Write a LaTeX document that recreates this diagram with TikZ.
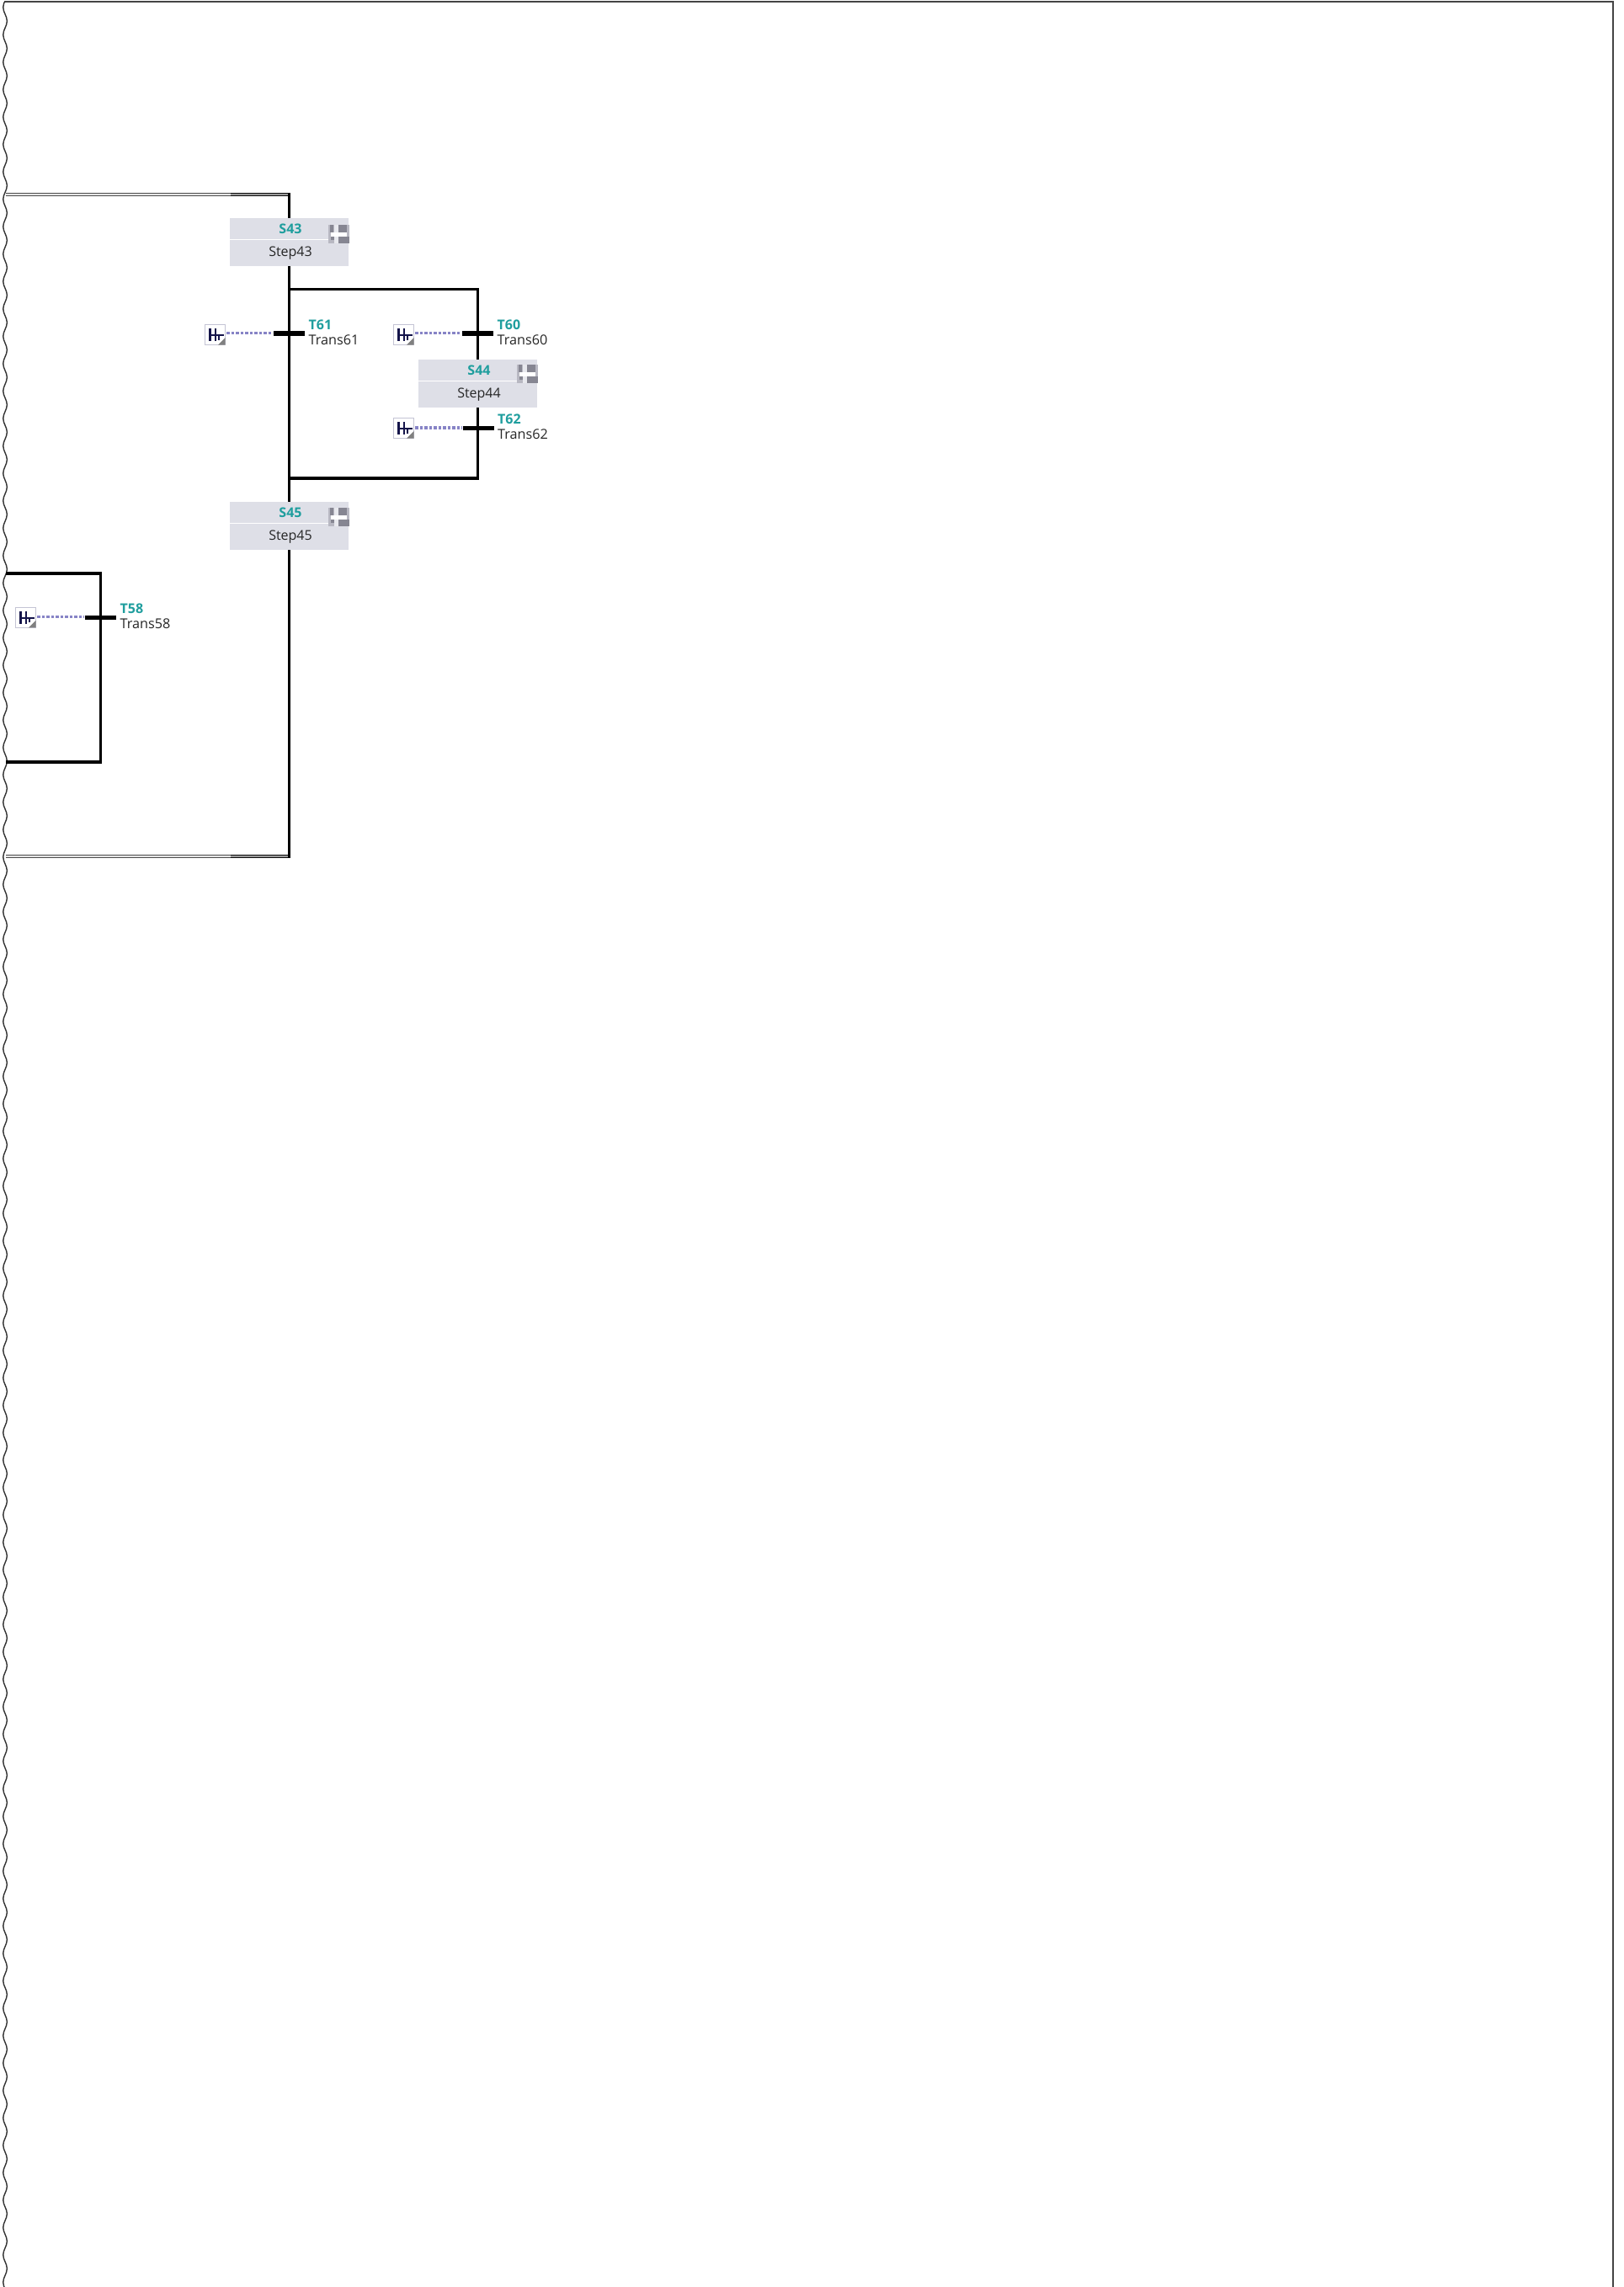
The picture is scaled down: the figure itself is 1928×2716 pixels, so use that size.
\documentclass[tikz,border=0pt]{standalone}
\usepackage{fontspec}
\setmainfont{Open Sans}
\definecolor{teal1}{HTML}{1F9E9E}
\definecolor{stepbg}{HTML}{DEDFE7}
\definecolor{dotc}{HTML}{8784C6}
\definecolor{navy}{HTML}{14144A}
\definecolor{iconbd}{HTML}{C4C4D4}
\definecolor{framec}{HTML}{444444}
\definecolor{foldbase}{HTML}{B8B8C2}
\definecolor{folddark}{HTML}{868692}
\tikzset{
 x=1pt,y=-1pt,
 wire/.style={draw=black,line width=3.2pt,line join=miter},
 tbar/.style={draw=none,fill=black,minimum width=37pt,minimum height=5.4pt,inner sep=0pt,outer sep=0pt},
 stepbox/.style={fill=stepbg,draw=none,minimum width=141pt,minimum height=57pt,inner sep=0pt,outer sep=0pt},
 sid/.style={text=teal1,font=\fontsize{16}{16}\selectfont\bfseries,inner sep=0pt,anchor=base},
 sname/.style={text=black!85,font=\fontsize{16}{16}\selectfont,inner sep=0pt,anchor=base},
 tid/.style={text=teal1,font=\fontsize{16}{16}\selectfont\bfseries,inner sep=0pt,anchor=base west},
 tname/.style={text=black!85,font=\fontsize{16.2}{16}\selectfont,inner sep=0pt,anchor=base west},
 iconbox/.style={draw=iconbd,fill=white,line width=1.3pt,minimum size=24pt,inner sep=0pt,outer sep=0pt},
 dotline/.style={draw=dotc,line width=3.6pt,dash pattern=on 3.5pt off 2pt},
}
\newcommand{\StepBlock}[6]{% name, cx, top, id, label, fold top
 \node[stepbox,anchor=north] (#1) at (#2,#3) {};
 \draw[white,line width=1.2pt] (#2-70.5,#3+25.3) -- (#2+47,#3+25.3);
 \node[sid] (#1id) at (#2+1.5,#3+18.8) {#4};
 \node[sname] (#1nm) at (#2+1.5,#3+45.6) {#5};
 \fill[foldbase] (#2+46.5,#6) rectangle (#2+71.5,#6+22);
 \fill[stepbg!70!white] (#2+53,#6) rectangle (#2+58.5,#6+22);
 \fill[folddark] (#2+48.5,#6) rectangle (#2+52.5,#6+9);
 \fill[folddark] (#2+58.5,#6) rectangle (#2+68.5,#6+9);
 \fill[folddark] (#2+49,#6+14) rectangle (#2+53,#6+18);
 \fill[folddark] (#2+58.5,#6+14) rectangle (#2+71.5,#6+22);
 \fill[white] (#2+49,#6+8.5) rectangle (#2+68,#6+14);
}
\newcommand{\TransBlock}[7]{% name, barx, bary, id, label, icon cx, icon cy
 \node[tbar] (#1) at (#2,#3) {};
 \node[tid] (#1id) at (#2+23,#3-4.8) {#4};
 \node[tname] (#1nm) at (#2+23,#3+13) {#5};
 \node[iconbox] (#1ic) at (#6,#7) {};
 \draw[navy,line width=3pt] (#6-6.2,#7-7.5) -- (#6-6.2,#7+7.5);
 \draw[navy,line width=2.5pt] (#6+0.5,#7-7.5) -- (#6+0.5,#7+7.5);
 \draw[navy,line width=2.2pt] (#6-6,#7+0.5) -- (#6+10,#7+0.5);
 \draw[navy,line width=2pt] (#6+4.7,#7+0.5) -- (#6+4.7,#7+6);
 \fill[black!50] (#6+12,#7+3.5) -- (#6+12,#7+12) -- (#6+3.5,#7+12) -- cycle;
 \coordinate (#1d) at (#6+13.5,#3-0.7);
 \coordinate (#1e) at (#2-19.5,#3-0.7);
 \draw[dotline] (#1d) -- (#1e);
}
\begin{document}
\begin{tikzpicture}
\useasboundingbox (0,0) rectangle (1928,2716);
\fill[white] (0,0) rectangle (1928,2716);
% frame
\coordinate (fa) at (5,2.5);
\coordinate (fb) at (1915.5,2.5);
\coordinate (fc) at (1915.5,2716);
\draw[framec,line width=2pt,line join=miter] (fa) -- (fb) -- (fc);
\begin{scope}
\clip (0,3) rectangle (20,2716);
\draw[black!80,line width=1.4pt] (8.35,-7.55)
 \foreach \k in {0,...,83} {
  .. controls (8.35,{-7.55+32.55*\k+5.93}) and (3.75,{-7.55+32.55*\k+10.35}) .. (3.75,{-7.55+32.55*\k+16.275})
  .. controls (3.75,{-7.55+32.55*\k+22.2}) and (8.35,{-7.55+32.55*\k+26.62}) .. (8.35,{-7.55+32.55*\k+32.55}) };
\end{scope}
% steps and transitions
\StepBlock{S43}{343.5}{259}{S43}{Step43}{267}
\StepBlock{S44}{567.5}{427}{S44}{Step44}{433}
\StepBlock{S45}{343.5}{596}{S45}{Step45}{603}
\TransBlock{T61}{343.5}{396}{T61}{Trans61}{255.5}{397.5}
\TransBlock{T60}{567.5}{396}{T60}{Trans60}{479.5}{397.5}
\TransBlock{T62}{568}{508.7}{T62}{Trans62}{479.5}{508.5}
\TransBlock{T58}{119.5}{733.3}{T58}{Trans58}{30.5}{733.3}
% connector anchors
\coordinate (topL) at (7,231);
\coordinate (topM) at (274,231);
\coordinate (topR) at (343.5,231);
\coordinate (botL) at (7,1017);
\coordinate (botM) at (274,1017);
\coordinate (botR) at (343.5,1017);
\coordinate (div) at (343.5,343.5);
\coordinate (mrg) at (343.5,568);
\coordinate (t58tl) at (7,681);
\coordinate (t58tr) at (119.5,681);
\coordinate (t58bl) at (7,905);
\coordinate (t58br) at (119.5,905);
% double lines
\draw[black!70,line width=4.2pt] (topL) -- (topM);
\draw[black!10,line width=1.3pt] (topL) -- (topM);
\draw[black!95,line width=4.2pt] (topM) -- (topR);
\draw[black!40,line width=1.2pt] (topM) -- (topR);
\draw[black!70,line width=4.2pt] (botL) -- (botM);
\draw[black!10,line width=1.3pt] (botL) -- (botM);
\draw[black!95,line width=4.2pt] (botM) -- (botR);
\draw[black!40,line width=1.2pt] (botM) -- (botR);
% wires
\draw[wire] (topR) ++(0,-2) -- (S43.north);
\draw[wire] (S43.south) -- (S45.north);
\draw[wire] (S45.south) -- ([yshift=-2pt]botR);
\draw[wire] (div) -| (S44.north);
\draw[wire] (S44.south) |- (mrg);
\draw[wire] (t58tl) -- (t58tr) -- (t58br) -- (t58bl);
\end{tikzpicture}
\end{document}
